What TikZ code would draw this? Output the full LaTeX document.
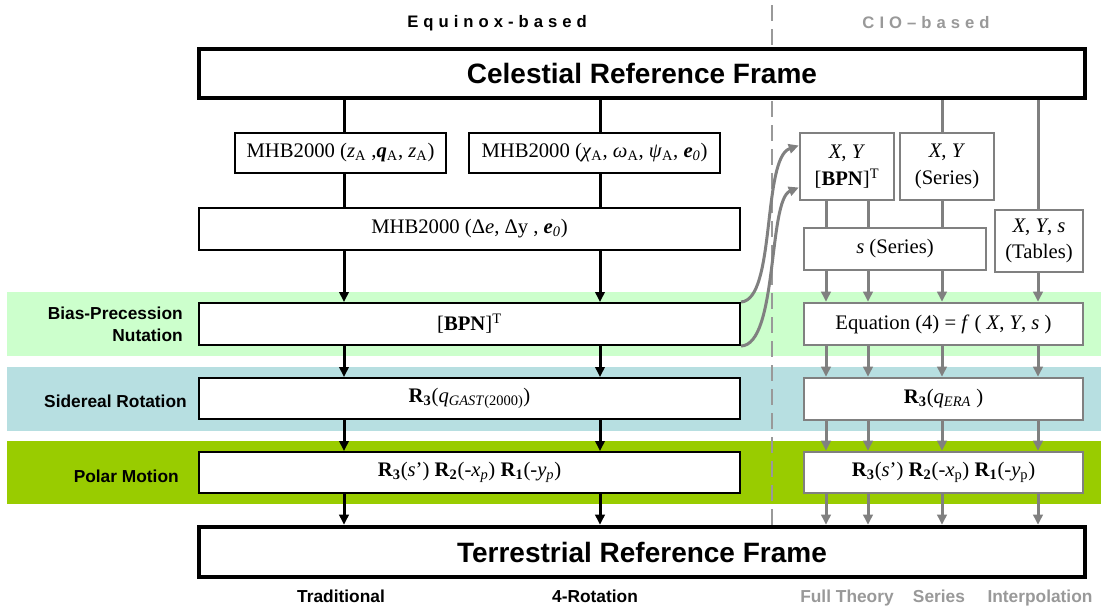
\documentclass[tikz,border=0pt]{standalone}
\usepackage{fontspec}
\setmainfont{Liberation Serif}
\newfontfamily\lsans{Liberation Sans}
\usetikzlibrary{arrows.meta,calc}
\definecolor{bandgreen}{HTML}{CCFFCC}
\definecolor{bandblue}{HTML}{B7DFE1}
\definecolor{bandpolar}{HTML}{99CC00}
\definecolor{lgray}{HTML}{808080}
\definecolor{tgray}{HTML}{999999}
\begin{document}
\begin{tikzpicture}[x=0.75pt,y=-0.75pt,
  wh/.style 2 args={minimum width=#1*0.75pt, minimum height=#2*0.75pt},
  bbox/.style={draw=black, line width=1.5pt, fill=white, inner sep=0pt, align=center, font=\fontsize{15.5}{20}\selectfont},
  gbox/.style={bbox, draw=lgray, line width=1.9pt},
  frame/.style={draw=black, line width=3.4pt, fill=white, inner sep=0pt, font=\lsans\bfseries\fontsize{21}{25}\selectfont},
  blk/.style={draw=black, line width=2.25pt},
  blkarr/.style={blk, -{Triangle[length=7.5pt,width=7pt]}},
  gry/.style={draw=lgray, line width=2.25pt},
  gryarr/.style={gry, -{Triangle[length=7.5pt,width=7pt]}},
  bandlabel/.style={font=\lsans\bfseries\fontsize{13}{16.5}\selectfont, align=right, anchor=east, inner sep=0pt},
  foot/.style={font=\lsans\bfseries\fontsize{13}{16}\selectfont, inner sep=0pt, anchor=base},
  head/.style={font=\lsans\bfseries\fontsize{12.5}{14}\selectfont\addfontfeature{LetterSpace=30}, inner sep=0pt}
]
\useasboundingbox (0,0) rectangle (1101,611);
\fill[white] (0,0) rectangle (1101,611);
% bands
\fill[bandgreen] (7,292) rectangle (1101,356);
\fill[bandblue] (7,367) rectangle (1101,431);
\fill[bandpolar] (7,441) rectangle (1101,504);
\node[bandlabel] (lb1) at (183,324) {Bias-Precession\\Nutation};
\node[bandlabel] (lb2) at (187,401) {Sidereal Rotation};
\node[bandlabel] (lb3) at (179,476) {Polar Motion};
% headers
\node[head] (h1) at (497,23) {Equinox-based};
\node[head, text=tgray] (h2) at (926,23) {CIO–based};
% dashed divider
\draw[draw=tgray, line width=1.5pt, dash pattern=on 12pt off 6pt] (772,5) -- (772,525);
% frames
\node[frame, wh={886}{49}] (cel) at (642,73.5) {Celestial Reference Frame};
\node[frame, wh={886}{50}] (ter) at (642,552) {Terrestrial Reference Frame};
% left boxes
\node[bbox, wh={211}{40}] (mA) at (340.5,153) {MHB2000 (\textit{z}\textsubscript{A} ,\textbf{\textit{q}}\textsubscript{A}, \textit{z}\textsubscript{A})};
\node[bbox, wh={251}{40}] (mB) at (594.5,153) {MHB2000 (\textit{χ}\textsubscript{A}, \textit{ω}\textsubscript{A}, \textit{ψ}\textsubscript{A}, \textbf{\textit{e}}\textsubscript{\textit{0}})};
\node[bbox, wh={541}{42}] (mC) at (469.5,229) {MHB2000 (Δ\textit{e}, Δy , \textbf{\textit{e}}\textsubscript{\textit{0}})};
\node[bbox, wh={541}{42}] (bpn) at (469.5,324) {[\textbf{BPN}]\textsuperscript{T}};
\node[bbox, wh={541}{41}] (gast) at (469.5,398.5) {\textbf{R}\textsubscript{\textbf{3}}(\textit{q}\textsubscript{\textit{GAST}(2000)})};
\node[bbox, wh={541}{41}] (pm) at (469.5,472.5) {\textbf{R}\textsubscript{\textbf{3}}(\textit{s}’) \textbf{R}\textsubscript{\textbf{2}}(-\textit{x}\textsubscript{\textit{p}}) \textbf{R}\textsubscript{\textbf{1}}(-\textit{y}\textsubscript{\textit{p}})};
% right boxes
\node[gbox, wh={94}{67}] (xyb) at (847,166.5) {\textit{X}, \textit{Y}\\{[}\textbf{BPN}]\textsuperscript{T}};
\node[gbox, wh={94}{67}] (xys) at (947,166.5) {\textit{X}, \textit{Y}\\(Series)};
\node[gbox, wh={182}{42}] (ss) at (895,249) {\textit{s} (Series)};
\node[gbox, wh={88}{62}] (tab) at (1039,241) {\textit{X}, \textit{Y}, \textit{s}\\(Tables)};
\node[gbox, wh={279}{42}] (eq) at (943.5,324) {Equation (4) = \textit{f} ( \textit{X}, \textit{Y}, \textit{s} )};
\node[gbox, wh={279}{42}] (era) at (943.5,399) {\textbf{R}\textsubscript{\textbf{3}}(\textit{q}\textsubscript{\textit{ERA}} )};
\node[gbox, wh={279}{41}] (pmr) at (943.5,472.5) {\textbf{R}\textsubscript{\textbf{3}}(\textit{s}’) \textbf{R}\textsubscript{\textbf{2}}(-\textit{x}\textsubscript{p}) \textbf{R}\textsubscript{\textbf{1}}(-\textit{y}\textsubscript{p})};
% column coordinates
\coordinate (k1) at (344,0);
\coordinate (k2) at (600,0);
\coordinate (g1) at (826,0);
\coordinate (g2) at (868,0);
\coordinate (g3) at (942,0);
\coordinate (g4) at (1038,0);
% black connectors
\draw[blk] (cel.south -| k1) -- (mA.north -| k1);
\draw[blk] (mA.south -| k1) -- (mC.north -| k1);
\draw[blk] (cel.south -| k2) -- (mB.north -| k2);
\draw[blk] (mB.south -| k2) -- (mC.north -| k2);
\foreach \k in {k1,k2}{
  \draw[blkarr] (mC.south -| \k) -- (bpn.north -| \k);
  \draw[blkarr] (bpn.south -| \k) -- (gast.north -| \k);
  \draw[blkarr] (gast.south -| \k) -- (pm.north -| \k);
  \draw[blkarr] (pm.south -| \k) -- (ter.north -| \k);
}
% gray connectors
\draw[gry] (xyb.south -| g1) -- (ss.north -| g1);
\draw[gry] (xyb.south -| g2) -- (ss.north -| g2);
\draw[gry] (cel.south -| g3) -- (xys.north -| g3);
\draw[gry] (xys.south -| g3) -- (ss.north -| g3);
\draw[gry] (cel.south -| g4) -- (tab.north -| g4);
\draw[gryarr] (ss.south -| g1) -- (eq.north -| g1);
\draw[gryarr] (ss.south -| g2) -- (eq.north -| g2);
\draw[gryarr] (ss.south -| g3) -- (eq.north -| g3);
\draw[gryarr] (tab.south -| g4) -- (eq.north -| g4);
\foreach \g in {g1,g2,g3,g4}{
  \draw[gryarr] (eq.south -| \g) -- (era.north -| \g);
  \draw[gryarr] (era.south -| \g) -- (pmr.north -| \g);
  \draw[gryarr] (pmr.south -| \g) -- (ter.north -| \g);
}
% curved links
\draw[gryarr] (bpn.north east) .. controls (776,300) and (762,158) .. ($(xyb.west)+(0,-21)$);
\draw[gryarr] (bpn.south east) .. controls (778,345) and (768,200) .. ($(xyb.west)+(0,21)$);
% footer labels
\node[foot] (f1) at (341,602) {Traditional};
\node[foot] (f2) at (595,602) {4-Rotation};
\node[foot, text=tgray] (f3) at (847,602) {Full Theory};
\node[foot, text=tgray] (f4) at (939,602) {Series};
\node[foot, text=tgray] (f5) at (1040,602) {Interpolation};
\end{tikzpicture}
\end{document}
